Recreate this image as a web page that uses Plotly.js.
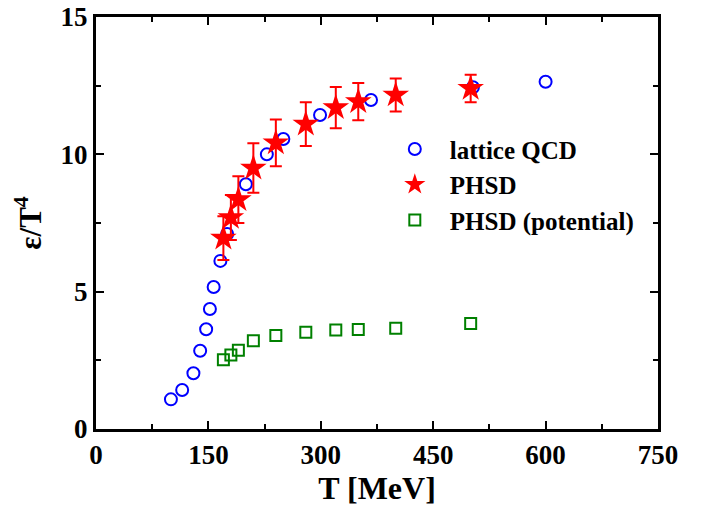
<!DOCTYPE html>
<html>
<head>
<meta charset="utf-8">
<script src="https://cdn.plot.ly/plotly-3.0.1.min.js"></script>
<style>html,body{margin:0;padding:0;background:#fff;}#chart{width:720px;height:508px;}</style>
</head>
<body>
<div id="chart"></div>
<script>
// lattice QCD
const latticeT = [100, 115, 130, 139, 147, 152, 157, 166, 175, 200, 228, 250, 299, 367, 503, 600];
const latticeE = [1.08, 1.42, 2.03, 2.85, 3.63, 4.37, 5.17, 6.12, 7.10, 8.91, 10.0, 10.56, 11.43, 11.98, 12.44, 12.64];
// PHSD
const phsdT = [170, 180, 190, 210, 240, 280, 320, 350, 400, 500];
const phsdE = [6.95, 7.70, 8.35, 9.50, 10.42, 11.10, 11.70, 11.92, 12.16, 12.40];
const phsdErr = [0.80, 0.82, 0.85, 0.90, 0.85, 0.80, 0.75, 0.68, 0.60, 0.50];
// PHSD (potential)
const potE = [2.52, 2.69, 2.87, 3.21, 3.40, 3.52, 3.60, 3.62, 3.67, 3.84];

const FONT = "Liberation Serif, Times New Roman, serif";

const traces = [
  {x: latticeT, y: latticeE, type: 'scatter', mode: 'markers', name: '<b>lattice QCD</b>',
   marker: {symbol: 'circle-open', size: 12, color: '#0000ff', line: {width: 2, color: '#0000ff'}}},
  {x: phsdT, y: phsdE, type: 'scatter', mode: 'markers', name: '<b>PHSD</b>',
   marker: {symbol: 'star', size: 20, color: '#ff0000', line: {width: 0}},
   error_y: {type: 'data', array: phsdErr, visible: true, color: '#ff0000', thickness: 2, width: 6}},
  {x: phsdT, y: potE, type: 'scatter', mode: 'markers', name: '<b>PHSD (potential)</b>',
   marker: {symbol: 'square-open', size: 11, color: '#008000', line: {width: 2, color: '#008000'}}}
];

const axisCommon = {
  showline: true, linecolor: '#000', linewidth: 3, mirror: 'ticks',
  ticks: 'inside', ticklen: 8, tickwidth: 2, tickcolor: '#000',
  showgrid: false, zeroline: false,
  tickfont: {family: FONT, size: 27, color: '#000', weight: 'bold'}
};

const layout = {
  width: 720, height: 508,
  margin: {l: 96, r: 62, t: 17, b: 79},
  paper_bgcolor: '#fff', plot_bgcolor: '#fff',
  font: {family: FONT, color: '#000'},
  showlegend: true,
  legend: {x: 0.505, y: 0.735, xanchor: 'left', yanchor: 'top', bgcolor: 'rgba(0,0,0,0)',
           font: {family: FONT, size: 25, color: '#000'}, itemwidth: 60, tracegroupgap: 0},
  xaxis: Object.assign({}, axisCommon, {
    range: [0, 750], tickvals: [0, 150, 300, 450, 600, 750], ticktext: ['0','150','300','450','600','750'],
    minor: {dtick: 75, tick0: 0, ticks: 'inside', ticklen: 5, tickwidth: 2, tickcolor: '#000'},
    title: {text: '<b>T [MeV]</b>', font: {family: FONT, size: 32, color: '#000'}, standoff: 6}
  }),
  yaxis: Object.assign({}, axisCommon, {
    range: [0, 15], tickvals: [0, 5, 10, 15], ticktext: ['0','5','10','15'],
    minor: {dtick: 2.5, tick0: 0, ticks: 'inside', ticklen: 5, tickwidth: 2, tickcolor: '#000'},
    title: {text: '<b>ε/T<sup>4</sup></b>', font: {family: FONT, size: 31, color: '#000'}, standoff: 10}
  })
};

Plotly.newPlot('chart', traces, layout, {displayModeBar: false, staticPlot: true});
</script>
</body>
</html>
